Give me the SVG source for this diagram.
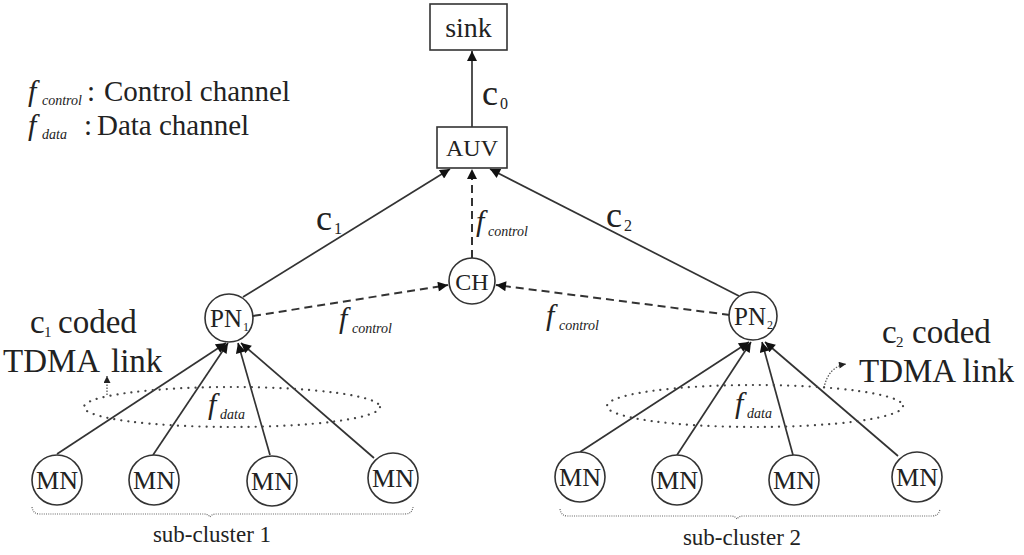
<svg xmlns="http://www.w3.org/2000/svg" width="1024" height="555" viewBox="0 0 1024 555">
<style>
  .t { font-family: "Liberation Serif", "Times New Roman", serif; fill: #222; }
  .it { font-family: "Liberation Serif", "Times New Roman", serif; font-style: italic; fill: #222; }
  .box { fill: #fff; stroke: #333; stroke-width: 1.6; }
  .node { fill: #fff; stroke: #333; stroke-width: 1.6; }
  .solid { fill: none; stroke: #333; stroke-width: 1.7; }
  .dash { fill: none; stroke: #333; stroke-width: 2; stroke-dasharray: 8 5; }
  .dot { fill: none; stroke: #444; stroke-width: 2.2; stroke-dasharray: 0.1 7; stroke-linecap: round; }
  .fine { fill: none; stroke: #555; stroke-width: 1.3; stroke-dasharray: 1.5 1.5; }
  .brace { fill: none; stroke: #666; stroke-width: 1.2; stroke-dasharray: 1 1.2; }
</style>
<defs>
  <marker id="ah" viewBox="0 0 10 10" refX="10" refY="5" markerWidth="12" markerHeight="10" markerUnits="userSpaceOnUse" orient="auto">
    <path d="M0,0 L10,5 L0,10 z" fill="#111"/>
  </marker>
  <marker id="ahs" viewBox="0 0 10 10" refX="10" refY="5" markerWidth="8" markerHeight="7" markerUnits="userSpaceOnUse" orient="auto">
    <path d="M0,0 L10,5 L0,10 z" fill="#222"/>
  </marker>
</defs>

<g id="legend">
  <text class="it" x="28" y="101" font-size="30">f</text>
  <text class="it" x="42" y="105" font-size="14">control</text>
  <text class="t" x="87" y="101" font-size="29">:</text>
  <text class="t" x="104" y="101" font-size="29">Control channel</text>
  <text class="it" x="28" y="135" font-size="30">f</text>
  <text class="it" x="42" y="139" font-size="14">data</text>
  <text class="t" x="84" y="135" font-size="29">:</text>
  <text class="t" x="97" y="135" font-size="29">Data channel</text>
</g>

<g id="connectors">
  <line class="solid" x1="472" y1="127" x2="472" y2="51" marker-end="url(#ah)"/>
  <line class="solid" x1="243" y1="297" x2="450" y2="169" marker-end="url(#ah)"/>
  <line class="solid" x1="739" y1="296" x2="490" y2="169" marker-end="url(#ah)"/>
  <line class="dash" x1="472" y1="258" x2="472" y2="169" marker-end="url(#ah)"/>
  <line class="dash" x1="253" y1="316" x2="448" y2="285" marker-end="url(#ah)"/>
  <line class="dash" x1="730" y1="315" x2="496" y2="285" marker-end="url(#ah)"/>
  <line class="solid" x1="57" y1="454" x2="226" y2="343" marker-end="url(#ah)"/>
  <line class="solid" x1="153" y1="455" x2="228" y2="343" marker-end="url(#ah)"/>
  <line class="solid" x1="270" y1="455" x2="238" y2="343" marker-end="url(#ah)"/>
  <line class="solid" x1="374" y1="458" x2="241" y2="343" marker-end="url(#ah)"/>
  <line class="solid" x1="580" y1="452" x2="749" y2="342" marker-end="url(#ah)"/>
  <line class="solid" x1="677" y1="455" x2="751" y2="342" marker-end="url(#ah)"/>
  <line class="solid" x1="793" y1="455" x2="762" y2="342" marker-end="url(#ah)"/>
  <line class="solid" x1="898" y1="456" x2="765" y2="342" marker-end="url(#ah)"/>
  <path class="fine" d="M107,395 L107,376" marker-end="url(#ahs)"/>
  <path class="fine" d="M824,388 Q828,367 846,364" marker-end="url(#ahs)"/>
</g>

<g id="labels">
  <text class="t" x="482" y="105" font-size="36">c</text>
  <text class="t" x="500" y="109" font-size="16">0</text>
  <text class="t" x="316" y="230" font-size="36">c</text>
  <text class="t" x="334" y="234" font-size="16">1</text>
  <text class="t" x="606" y="227" font-size="36">c</text>
  <text class="t" x="624" y="231" font-size="16">2</text>
  <text class="it" x="476" y="231" font-size="30">f</text>
  <text class="it" x="488" y="236" font-size="14">control</text>
  <text class="it" x="339" y="328" font-size="30">f</text>
  <text class="it" x="352" y="333" font-size="14">control</text>
  <text class="it" x="546" y="325" font-size="30">f</text>
  <text class="it" x="559" y="330" font-size="14">control</text>
  <text class="it" x="208" y="414" font-size="30">f</text>
  <text class="it" x="220" y="419" font-size="14">data</text>
  <text class="it" x="735" y="413" font-size="30">f</text>
  <text class="it" x="747" y="418" font-size="14">data</text>
  <text class="t" x="30" y="333" font-size="33">c</text>
  <text class="t" x="44" y="337" font-size="15">1</text>
  <text class="t" x="58" y="333" font-size="33">coded</text>
  <text class="t" x="3" y="372" font-size="33">TDMA</text>
  <text class="t" x="111" y="372" font-size="33">link</text>
  <text class="t" x="882" y="343" font-size="33">c</text>
  <text class="t" x="896" y="347" font-size="15">2</text>
  <text class="t" x="912" y="343" font-size="33">coded</text>
  <text class="t" x="859" y="382" font-size="33">TDMA link</text>
</g>

<g id="ellipses">
  <ellipse class="dot" cx="232" cy="407" rx="148" ry="20"/>
  <ellipse class="dot" cx="755" cy="406" rx="148" ry="21"/>
</g>

<g id="sink">
  <rect class="box" x="430" y="4" width="77" height="46"/>
  <text class="t" x="468.5" y="37" font-size="28" text-anchor="middle">sink</text>
</g>
<g id="auv">
  <rect class="box" x="437" y="127" width="70" height="41"/>
  <text class="t" x="472" y="156" font-size="24" text-anchor="middle">AUV</text>
</g>
<g id="ch">
  <circle class="node" cx="472" cy="281" r="23"/>
  <text class="t" x="472" y="290" font-size="24" text-anchor="middle">CH</text>
</g>
<g id="pn1">
  <circle class="node" cx="229" cy="318" r="24"/>
  <text class="t" x="226" y="327" font-size="25" text-anchor="middle">PN</text>
  <text class="t" x="243" y="331" font-size="12">1</text>
</g>
<g id="pn2">
  <circle class="node" cx="753" cy="316" r="24"/>
  <text class="t" x="750" y="325" font-size="25" text-anchor="middle">PN</text>
  <text class="t" x="767" y="329" font-size="12">2</text>
</g>

<g id="mn1-1"><circle class="node" cx="57" cy="480" r="25"/><text class="t" x="57" y="489" font-size="26" text-anchor="middle">MN</text></g>
<g id="mn1-2"><circle class="node" cx="154" cy="480" r="25"/><text class="t" x="154" y="489" font-size="26" text-anchor="middle">MN</text></g>
<g id="mn1-3"><circle class="node" cx="272" cy="481" r="25"/><text class="t" x="272" y="490" font-size="26" text-anchor="middle">MN</text></g>
<g id="mn1-4"><circle class="node" cx="393" cy="478" r="25"/><text class="t" x="393" y="487" font-size="26" text-anchor="middle">MN</text></g>
<g id="mn2-1"><circle class="node" cx="580" cy="477" r="25"/><text class="t" x="580" y="486" font-size="26" text-anchor="middle">MN</text></g>
<g id="mn2-2"><circle class="node" cx="677" cy="480" r="25"/><text class="t" x="677" y="489" font-size="26" text-anchor="middle">MN</text></g>
<g id="mn2-3"><circle class="node" cx="794" cy="480" r="25"/><text class="t" x="794" y="489" font-size="26" text-anchor="middle">MN</text></g>
<g id="mn2-4"><circle class="node" cx="917" cy="477" r="25"/><text class="t" x="917" y="486" font-size="26" text-anchor="middle">MN</text></g>

<g id="subcluster1">
  <path class="brace" d="M32,507 Q33,514 40,514 L204,514 Q208,514 210,517 Q212,514 216,514 L405,514 Q412,514 413,507"/>
  <text class="t" x="212" y="542" font-size="23" text-anchor="middle">sub-cluster 1</text>
</g>
<g id="subcluster2">
  <path class="brace" d="M560,509 Q561,516 568,516 L731,516 Q735,516 737,519 Q739,516 743,516 L932,516 Q939,516 940,509"/>
  <text class="t" x="742" y="545" font-size="23" text-anchor="middle">sub-cluster 2</text>
</g>
</svg>
